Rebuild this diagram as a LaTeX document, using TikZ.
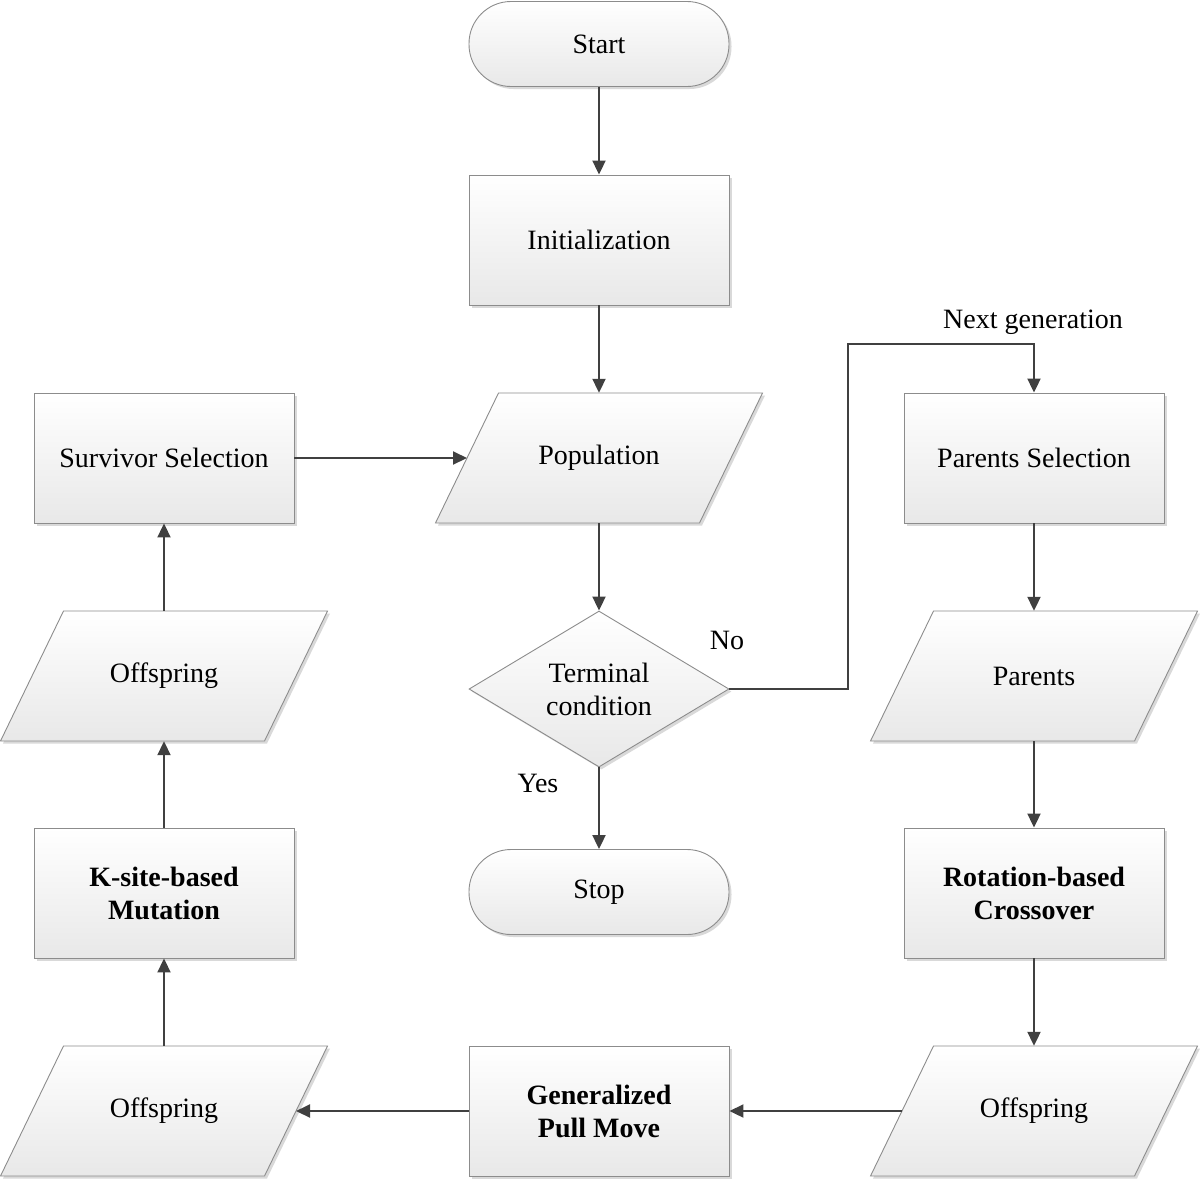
\documentclass[tikz,border=0pt]{standalone}
\usepackage{fontspec}
\setmainfont{Liberation Serif}
\usetikzlibrary{shapes.geometric,shadows,arrows.meta,calc}
\definecolor{edgec}{HTML}{8C8C8C}
\definecolor{linec}{HTML}{404040}
\tikzset{
  skin/.style={draw=edgec, line width=0.9pt, top color=white, bottom color=black!9,
    drop shadow={shadow xshift=2.5pt, shadow yshift=-2.5pt, opacity=0.25, fill=black!60}},
  base/.style={skin, font=\fontsize{28}{33}\selectfont, align=center, inner sep=0pt},
  procbox/.style={base, rectangle, minimum width=260pt, minimum height=130pt},
  termbox/.style={base, rectangle, rounded corners=42pt, minimum width=260pt, minimum height=85pt},
  iotext/.style={font=\fontsize{28}{33}\selectfont, align=center, inner sep=0pt,
    rectangle, minimum width=264pt, minimum height=130pt},
  decbox/.style={base, diamond, minimum width=260pt, minimum height=156pt, aspect=1.667},
  flow/.style={draw=linec, line width=2pt, -{Triangle[length=14pt,width=13pt]}},
  lbl/.style={font=\fontsize{28}{33}\selectfont, inner sep=0pt}
}
% parallelogram (data) box: shape drawn first, then the text node on top
\newcommand\iobox[3]{%
  \path[skin] ($(#2)+(-100.5,65)$) -- ($(#2)+(163.5,65)$) -- ($(#2)+(100.5,-65)$)
     -- ($(#2)+(-163.5,-65)$) -- cycle;
  \node[iotext] (#1) at (#2) {#3};
  \coordinate (#1-w) at ($(#2)+(-132,0)$);
  \coordinate (#1-e) at ($(#2)+(132,0)$);
}
\begin{document}
\begin{tikzpicture}[x=1pt,y=1pt]
\useasboundingbox (0,0) rectangle (1200,-1179);
\node[termbox] (start) at (599,-44) {Start};
\node[procbox] (init) at (599,-240) {Initialization};
\iobox{pop}{599,-458}{Population}
\node[decbox] (term) at (599,-689) {Terminal\\condition};
\node[termbox] (stop) at (599,-892) {Stop};
\node[procbox] (surv) at (164,-458) {Survivor Selection};
\iobox{off1}{164,-676}{Offspring}
\node[procbox] (mut) at (164,-893) {\bfseries K-site-based\\\bfseries Mutation};
\iobox{off2}{164,-1111}{Offspring}
\node[procbox] (pull) at (599,-1111) {\bfseries Generalized\\\bfseries Pull Move};
\iobox{off3}{1034,-1111}{Offspring}
\node[procbox] (cross) at (1034,-893) {\bfseries Rotation-based\\\bfseries Crossover};
\iobox{par}{1034,-676}{Parents}
\node[procbox] (psel) at (1034,-458) {Parents Selection};
\coordinate (c1) at (848,-689);
\coordinate (c2) at (848,-344);
\coordinate (c3) at (1034,-344);
\draw[flow] (start) -- (init);
\draw[flow] (init) -- (pop);
\draw[flow] (pop) -- (term);
\draw[flow] (term) -- (stop);
\draw[flow] (term.east) -- (c1) -- (c2) -- (c3) -- (psel.north);
\draw[flow] (psel) -- (par);
\draw[flow] (par) -- (cross);
\draw[flow] (cross) -- (off3);
\draw[flow] (off3-w) -- (pull.east);
\draw[flow] (pull.west) -- (off2-e);
\draw[flow] (off2) -- (mut);
\draw[flow] (mut) -- (off1);
\draw[flow] (off1) -- (surv);
\draw[flow] (surv.east) -- (pop-w);
\node[lbl] (no) at (727,-640) {No};
\node[lbl] (yes) at (538,-783) {Yes};
\node[lbl] (next) at (1033,-322) {Next generation};
\end{tikzpicture}
\end{document}
